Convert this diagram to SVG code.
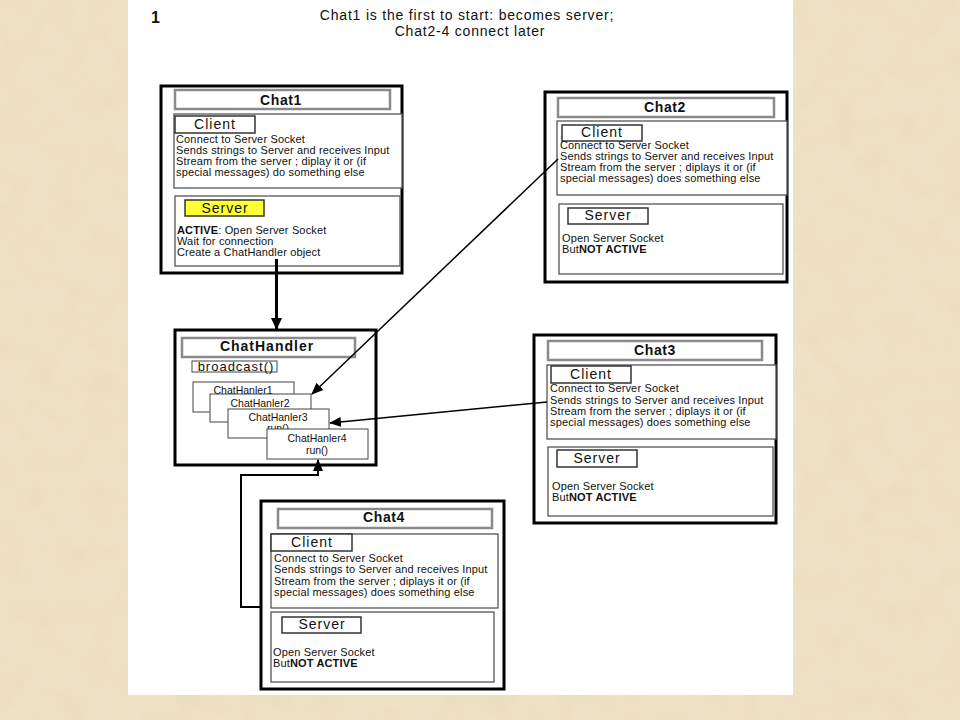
<svg xmlns="http://www.w3.org/2000/svg" width="960" height="720" viewBox="0 0 960 720">
<defs>
<filter id="tex" x="0" y="0" width="100%" height="100%">
<feTurbulence type="fractalNoise" baseFrequency="0.035" numOctaves="4" seed="7"/>
<feColorMatrix type="matrix" values="0 0 0 0 0.82  0 0 0 0 0.70  0 0 0 0 0.48  1.6 0 0 0 -0.62"/>
</filter>
<marker id="ah" markerUnits="userSpaceOnUse" markerWidth="12" markerHeight="12" viewBox="0 0 12 12" refX="11" refY="6" orient="auto">
<path d="M0,1 L12,6 L0,11 Z" fill="#000"/>
</marker>
<marker id="ahb" markerUnits="userSpaceOnUse" markerWidth="12" markerHeight="12" viewBox="0 0 12 12" refX="11" refY="6" orient="auto">
<path d="M0,0.5 L12,6 L0,11.5 Z" fill="#000"/>
</marker>
<style>
text{font-family:"Liberation Sans",Arial,sans-serif;fill:#111}
.outer{fill:#fff;stroke:#000;stroke-width:3}
.bar{fill:#fff;stroke:#8a8a8a;stroke-width:2.5}
.sec{fill:#fff;stroke:#555;stroke-width:1.3}
.lbl{fill:#fff;stroke:#333;stroke-width:1.5}
.sub{fill:#fff;stroke:#444;stroke-width:1}
.ttl{font-size:14px;font-weight:bold;letter-spacing:0.6px;text-anchor:middle}
.lt{font-size:14px;letter-spacing:1px;text-anchor:middle}
.body{font-size:11px;letter-spacing:0.15px}
.hn{font-size:10.5px;text-anchor:middle}
.conn{fill:none;stroke:#000}
.head{font-size:14px;letter-spacing:0.8px;text-anchor:middle}
</style>
</defs>
<rect x="0" y="0" width="960" height="720" fill="#EFE1C3"/>
<rect x="0" y="0" width="960" height="720" filter="url(#tex)" opacity="0.6"/>
<rect x="128" y="0" width="665" height="695" fill="#fff"/>

<g id="title">
<text x="151" y="23" style="font-size:16px;font-weight:bold">1</text>
<text class="head" x="467" y="19.5">Chat1 is the first to start: becomes server;</text>
<text class="head" x="470" y="35.5">Chat2-4 connect later</text>
</g>

<g id="chat1">
<rect class="outer" x="161" y="86" width="241" height="187"/>
<rect class="bar" x="175" y="90" width="215" height="19"/>
<text class="ttl" x="281" y="105">Chat1</text>
<rect class="sec" x="174" y="114" width="228" height="74"/>
<rect class="lbl" x="175" y="116" width="80" height="17"/>
<text class="lt" x="215" y="129">Client</text>
<text class="body" x="176" y="143">Connect to Server Socket</text>
<text class="body" x="176" y="154">Sends strings to Server and receives Input</text>
<text class="body" x="176" y="165">Stream from the server ; diplay it or (if</text>
<text class="body" x="176" y="176">special messages) do something else</text>
<rect class="sec" x="175" y="196" width="225" height="70"/>
<rect x="185" y="200" width="79" height="16" fill="#FFFF33" stroke="#333" stroke-width="1.5"/>
<text class="lt" x="225" y="213">Server</text>
<text class="body" x="177" y="234"><tspan font-weight="bold">ACTIVE</tspan>: Open Server Socket</text>
<text class="body" x="177" y="245">Wait for connection</text>
<text class="body" x="177" y="256">Create a ChatHandler object</text>
</g>

<g id="chat2">
<rect class="outer" x="545" y="92" width="242" height="190"/>
<rect class="bar" x="558" y="98" width="216" height="19"/>
<text class="ttl" x="665" y="112">Chat2</text>
<rect class="sec" x="557" y="121" width="230" height="74"/>
<rect class="lbl" x="562" y="125" width="80" height="16"/>
<text class="lt" x="602" y="137">Client</text>
<text class="body" x="560" y="149">Connect to Server Socket</text>
<text class="body" x="560" y="160">Sends strings to Server and receives Input</text>
<text class="body" x="560" y="171">Stream from the server ; diplays it or (if</text>
<text class="body" x="560" y="182">special messages) does something else</text>
<rect class="sec" x="559" y="204" width="224" height="70"/>
<rect class="lbl" x="568" y="208" width="80" height="16"/>
<text class="lt" x="608" y="220">Server</text>
<text class="body" x="562" y="242">Open Server Socket</text>
<text class="body" x="562" y="253">But<tspan font-weight="bold">NOT ACTIVE</tspan></text>
</g>

<g id="chathandler">
<rect class="outer" x="175" y="330" width="201" height="135"/>
<rect class="bar" x="182" y="338" width="173" height="19"/>
<text class="ttl" x="267" y="351" style="letter-spacing:1px">ChatHandler</text>
<rect class="sub" x="192" y="361" width="85" height="11"/>
<text x="236" y="371" style="font-size:13px;letter-spacing:1px;text-anchor:middle">broadcast()</text>
<rect class="sub" x="193" y="382" width="101" height="30"/>
<text class="hn" x="243" y="394">ChatHanler1</text>
<rect class="sub" x="210" y="394" width="101" height="28"/>
<text class="hn" x="260" y="407">ChatHanler2</text>
<rect class="sub" x="228" y="409" width="101" height="29"/>
<text class="hn" x="278" y="421">ChatHanler3</text>
<text class="hn" x="278" y="432">run()</text>
<rect class="sub" x="267" y="429" width="101" height="30"/>
<text class="hn" x="317" y="442">ChatHanler4</text>
<text class="hn" x="317" y="454">run()</text>
</g>

<g id="chat3">
<rect class="outer" x="534" y="335" width="242" height="188"/>
<rect class="bar" x="548" y="341" width="214" height="19"/>
<text class="ttl" x="655" y="355">Chat3</text>
<rect class="sec" x="547" y="365" width="229" height="74"/>
<rect class="lbl" x="551" y="366" width="80" height="17"/>
<text class="lt" x="591" y="379">Client</text>
<text class="body" x="550" y="392">Connect to Server Socket</text>
<text class="body" x="550" y="403.5">Sends strings to Server and receives Input</text>
<text class="body" x="550" y="415">Stream from the server ; diplays it or (if</text>
<text class="body" x="550" y="426">special messages) does something else</text>
<rect class="sec" x="548" y="447" width="225" height="69"/>
<rect class="lbl" x="557" y="450" width="80" height="17"/>
<text class="lt" x="597" y="463">Server</text>
<text class="body" x="552" y="490">Open Server Socket</text>
<text class="body" x="552" y="501">But<tspan font-weight="bold">NOT ACTIVE</tspan></text>
</g>

<g id="chat4">
<rect class="outer" x="261" y="501" width="243" height="188"/>
<rect class="bar" x="278" y="509" width="214" height="19"/>
<text class="ttl" x="384" y="522">Chat4</text>
<rect class="sec" x="271" y="534" width="227" height="74"/>
<rect class="lbl" x="271" y="534" width="81" height="17"/>
<text class="lt" x="312" y="547">Client</text>
<text class="body" x="274" y="562">Connect to Server Socket</text>
<text class="body" x="274" y="573">Sends strings to Server and receives Input</text>
<text class="body" x="274" y="584.5">Stream from the server ; diplays it or (if</text>
<text class="body" x="274" y="595.5">special messages) does something else</text>
<rect class="sec" x="271" y="612" width="223" height="70"/>
<rect class="lbl" x="282" y="617" width="79" height="16"/>
<text class="lt" x="322" y="629">Server</text>
<text class="body" x="273" y="655.5">Open Server Socket</text>
<text class="body" x="273" y="666.5">But<tspan font-weight="bold">NOT ACTIVE</tspan></text>
</g>

<g id="connectors">
<line class="conn" x1="276.5" y1="259" x2="276.5" y2="329" stroke-width="3" marker-end="url(#ahb)"/>
<line class="conn" x1="558" y1="159" x2="312" y2="394" stroke-width="1.5" marker-end="url(#ah)"/>
<line class="conn" x1="547" y1="402" x2="330" y2="423" stroke-width="1.5" marker-end="url(#ah)"/>
<polyline class="conn" points="261,607 241,607 241,475 318,475 318,460" stroke-width="2" marker-end="url(#ah)"/>
</g>
</svg>
